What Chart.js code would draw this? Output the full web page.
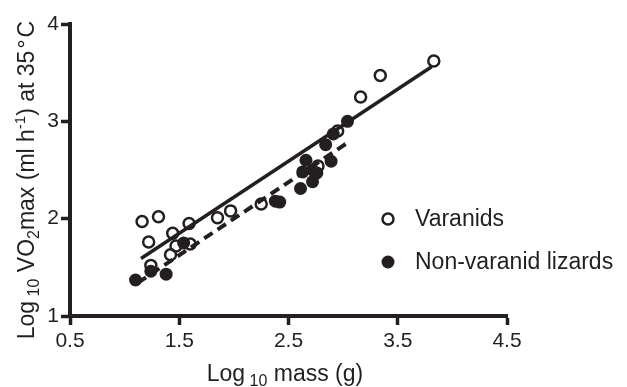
<!DOCTYPE html>
<html>
<head>
<meta charset="utf-8">
<script src="https://cdn.jsdelivr.net/npm/chart.js@4.4.1/dist/chart.umd.min.js"></script>
<style>
html,body{margin:0;padding:0;background:#fff;}
#wrap{width:627px;height:387px;position:relative;}
</style>
</head>
<body>
<div id="wrap"><canvas id="c" width="627" height="387"></canvas></div>
<script>
// ---- data ----
const varanidX = [1.16, 1.31, 1.22, 1.44, 1.59, 1.24, 1.42, 1.47, 1.60, 1.85, 1.97, 2.25, 2.77, 2.95, 3.16, 3.34, 3.83];
const varanidY = [1.97, 2.02, 1.76, 1.85, 1.95, 1.52, 1.63, 1.72, 1.74, 2.01, 2.08, 2.15, 2.54, 2.90, 3.25, 3.47, 3.62];
const otherX = [1.10, 1.24, 1.38, 1.54, 2.38, 2.42, 2.61, 2.63, 2.66, 2.72, 2.72, 2.76, 2.84, 2.89, 2.91, 3.04];
const otherY = [1.37, 1.46, 1.43, 1.75, 2.18, 2.17, 2.31, 2.48, 2.60, 2.50, 2.38, 2.47, 2.76, 2.59, 2.87, 3.00];
const varanidFitX = [1.15, 3.81];
const varanidFitY = [1.59, 3.56];
const otherFitX = [1.12, 3.04];
const otherFitY = [1.34, 2.78];
const xTicks = [0.5, 1.5, 2.5, 3.5, 4.5];
const yTicks = [1, 2, 3, 4];
const seriesNames = ["Varanids", "Non-varanid lizards"];

const INK = '#231f20';
const FONT = '"Liberation Sans", Arial, Helvetica, sans-serif';
const pts = (xs, ys) => xs.map((x, i) => ({x: x, y: ys[i]}));

function drawRich(ctx, parts, x, y) {
  // parts: {t, size, dy, gap}
  let total = 0;
  parts.forEach(p => { ctx.font = p.size + 'px ' + FONT; p.w = ctx.measureText(p.t).width; total += p.w + (p.gap || 0); });
  let cx = x - total / 2;
  parts.forEach(p => {
    ctx.font = p.size + 'px ' + FONT;
    ctx.fillText(p.t, cx, y + (p.dy || 0));
    cx += p.w + (p.gap || 0);
  });
}

const decorPlugin = {
  id: 'decor',
  afterDraw(chart) {
    const ctx = chart.ctx;
    ctx.save();
    ctx.fillStyle = INK;
    ctx.textAlign = 'left';
    ctx.textBaseline = 'alphabetic';
    // x title
    drawRich(ctx, [
      {t: 'Log', size: 23},
      {t: ' 10', size: 16, dy: 5},
      {t: ' mass (g)', size: 23}
    ], 285, 381);
    // y title
    ctx.save();
    ctx.translate(34, 180);
    ctx.rotate(-Math.PI / 2);
    drawRich(ctx, [
      {t: 'Log', size: 23},
      {t: ' 10', size: 16, dy: 5},
      {t: ' VO', size: 23},
      {t: '2', size: 16, dy: 5},
      {t: 'max (ml h', size: 23},
      {t: '-1', size: 15, dy: -9},
      {t: ') at 35', size: 23, gap: 2},
      {t: '°', size: 23, gap: 2},
      {t: 'C', size: 23}
    ], 0, 0);
    ctx.restore();
    // legend
    ctx.textBaseline = 'middle';
    ctx.font = '23px ' + FONT;
    ctx.strokeStyle = INK;
    ctx.lineWidth = 2.5;
    ctx.beginPath();
    ctx.arc(388, 219, 5.5, 0, Math.PI * 2);
    ctx.stroke();
    ctx.fillText(seriesNames[0], 415, 220);
    ctx.beginPath();
    ctx.arc(388, 262, 6.5, 0, Math.PI * 2);
    ctx.fill();
    ctx.fillText(seriesNames[1], 415, 263);
    ctx.restore();
  }
};

new Chart(document.getElementById('c'), {
  type: 'scatter',
  data: {
    datasets: [
      {
        label: seriesNames[0], data: pts(varanidX, varanidY), order: 1,
        pointStyle: 'circle', pointRadius: 5.5, pointBorderWidth: 2.5,
        borderColor: INK, backgroundColor: 'rgba(0,0,0,0)', pointHoverRadius: 5.5
      },
      {
        label: seriesNames[1], data: pts(otherX, otherY), order: 1,
        pointStyle: 'circle', pointRadius: 6.5, pointBorderWidth: 0,
        borderColor: INK, backgroundColor: INK
      },
      {
        type: 'line', label: 'fitV', data: pts(varanidFitX, varanidFitY), order: 2,
        borderColor: INK, borderWidth: 3.5, pointRadius: 0, showLine: true, fill: false
      },
      {
        type: 'line', label: 'fitO', data: pts(otherFitX, otherFitY), order: 2,
        borderColor: INK, borderWidth: 4, borderDash: [10, 6], pointRadius: 0, showLine: true, fill: false
      }
    ]
  },
  options: {
    responsive: false,
    animation: false,
    devicePixelRatio: 1,
    layout: {padding: {top: 24, right: 120, left: 0, bottom: 0}},
    plugins: {legend: {display: false}, tooltip: {enabled: false}},
    scales: {
      x: {
        type: 'linear', min: 0.5, max: 4.5,
        afterBuildTicks: s => { s.ticks = xTicks.map(v => ({value: v})); },
        afterFit: s => { s.height = 71; },
        grid: {display: true, drawOnChartArea: false, drawTicks: true, tickLength: 9, tickWidth: 3.5, tickColor: INK},
        border: {display: true, width: 4, color: INK},
        ticks: {color: INK, font: {family: FONT, size: 21}, padding: 4, maxRotation: 0,
          callback: v => v.toFixed(1)}
      },
      y: {
        type: 'linear', min: 1, max: 4,
        afterBuildTicks: s => { s.ticks = yTicks.map(v => ({value: v})); },
        afterFit: s => { s.width = 70; },
        grid: {display: true, drawOnChartArea: false, drawTicks: true, tickLength: 9, tickWidth: 3.5, tickColor: INK},
        border: {display: true, width: 4, color: INK},
        ticks: {color: INK, font: {family: FONT, size: 21}, padding: 2,
          callback: v => String(v)}
      }
    }
  },
  plugins: [decorPlugin]
});
</script>
</body>
</html>
